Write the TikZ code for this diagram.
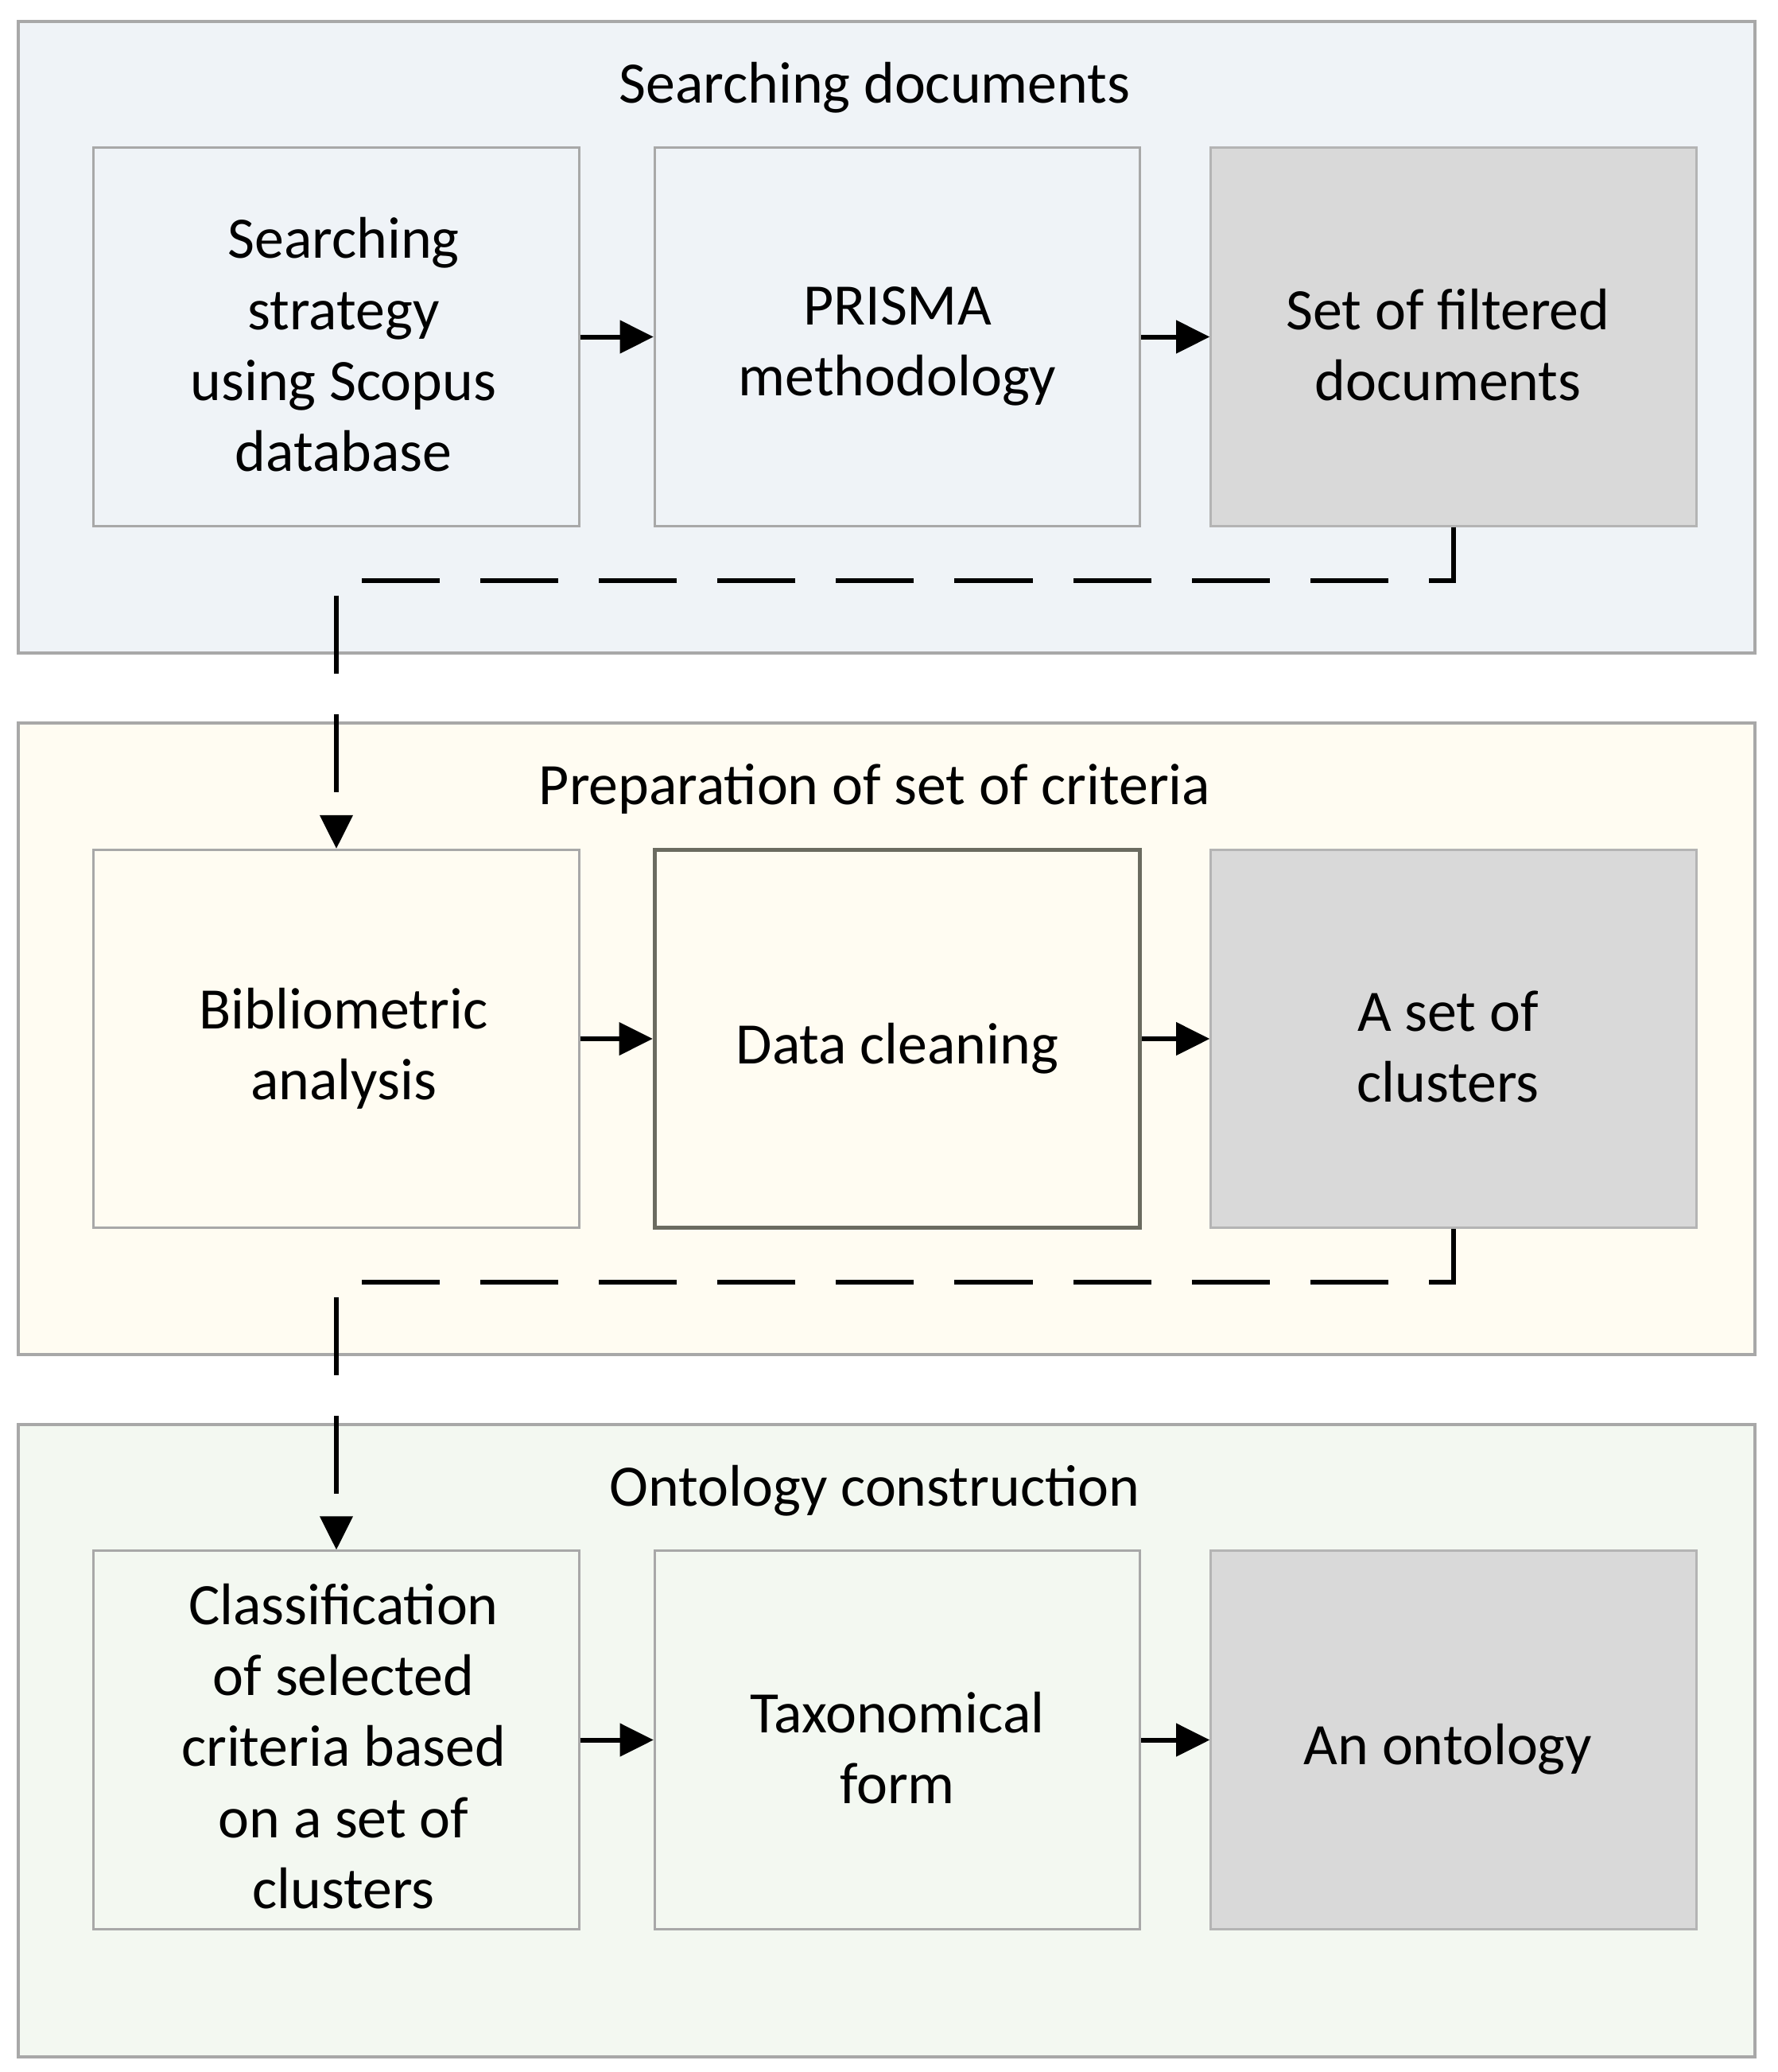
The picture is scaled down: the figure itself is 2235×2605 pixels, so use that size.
\documentclass[tikz,border=0pt]{standalone}
\usepackage{fontspec}
\setmainfont{Carlito}
\usetikzlibrary{arrows.meta}
\definecolor{panelA}{HTML}{EFF3F7}
\definecolor{panelB}{HTML}{FFFCF2}
\definecolor{panelC}{HTML}{F3F8F1}
\definecolor{edgegray}{HTML}{A8A8A8}
\definecolor{boxgray}{HTML}{D9D9D9}
\definecolor{boxedge}{HTML}{B4B4B4}
\definecolor{darkedge}{HTML}{6B6B60}
\begin{document}
\begin{tikzpicture}[x=0.01cm,y=-0.01cm,
  panel/.style={draw=edgegray, line width=0.9pt},
  stepbox/.style={draw=edgegray, line width=0.8pt, minimum width=6.1cm, minimum height=4.75cm,
    inner sep=0pt},
  resultbox/.style={stepbox, fill=boxgray, draw=boxedge},
  keybox/.style={stepbox, draw=darkedge, line width=1.4pt},
  boxtext/.style={align=center, inner sep=0pt, font=\fontsize{21}{25.4}\selectfont},
  paneltitle/.style={font=\fontsize{21}{25.4}\selectfont, inner sep=0pt},
  flow/.style={-{Triangle[length=12pt,width=11.5pt]}, line width=1.7pt},
  handoff/.style={flow, dash pattern=on 27.9pt off 14.5pt}
]
\useasboundingbox (0,0) rectangle (2235,2605);
\fill[white] (0,0) rectangle (2235,2605);
% panels
\draw[panel, fill=panelA] (23,27) rectangle (2207,821);
\draw[panel, fill=panelB] (23,909) rectangle (2207,1703);
\draw[panel, fill=panelC] (23,1791) rectangle (2207,2586);
% titles
\node[paneltitle] (t1) at (1100,110) {Searching documents};
\node[paneltitle] (t2) at (1100,992) {Preparation of set of criteria};
\node[paneltitle] (t3) at (1100,1874) {Ontology construction};
% row 1
\node[stepbox, fill=panelA] (a1) at (423,423.5) {};
\node[stepbox, fill=panelA] (a2) at (1128.5,423.5) {};
\node[resultbox] (a3) at (1828,423.5) {};
% row 2
\node[stepbox, fill=panelB] (b1) at (423,1306) {};
\node[keybox, fill=panelB] (b2) at (1128.5,1306) {};
\node[resultbox] (b3) at (1828,1306) {};
% row 3
\node[stepbox, fill=panelC] (c1) at (423,2187.5) {};
\node[stepbox, fill=panelC] (c2) at (1128.5,2187.5) {};
\node[resultbox] (c3) at (1828,2187.5) {};
% box texts
\node[boxtext] (a1t) at ([shift={(9,10)}]a1.center) {Searching\\strategy\\using Scopus\\database};
\node[boxtext] (a2t) at ([shift={(0,12)}]a2.center) {PRISMA\\methodology};
\node[boxtext] (a3t) at ([shift={(-7,10)}]a3.center) {Set of filtered\\documents};
\node[boxtext] (b1t) at ([shift={(9,12)}]b1.center) {Bibliometric\\analysis};
\node[boxtext] (b2t) at ([shift={(0,12)}]b2.center) {Data cleaning};
\node[boxtext] (b3t) at ([shift={(-7,10)}]b3.center) {A set of\\clusters};
\node[boxtext] (c1t) at ([shift={(9,8)}]c1.center) {Classification\\of selected\\criteria based\\on a set of\\clusters};
\node[boxtext] (c2t) at ([shift={(0,10)}]c2.center) {Taxonomical\\form};
\node[boxtext] (c3t) at ([shift={(-7,12)}]c3.center) {An ontology};
% arrows
\draw[flow] (a1) -- (a2);
\draw[flow] (a2) -- (a3);
\draw[flow] (b1) -- (b2);
\draw[flow] (b2) -- (b3);
\draw[flow] (c1) -- (c2);
\draw[flow] (c2) -- (c3);
% hand-offs between stages
\draw[handoff] (a3.south) -- ++(0,67) -| (b1.north);
\draw[handoff] (b3.south) -- ++(0,67) -| (c1.north);
\end{tikzpicture}
\end{document}
